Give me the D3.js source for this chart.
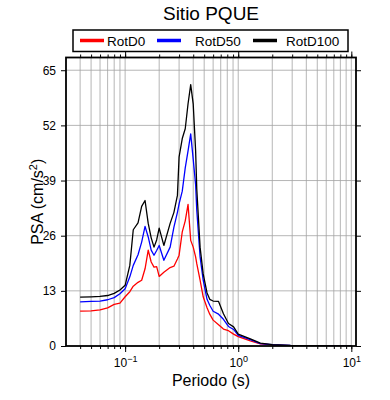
<!DOCTYPE html>
<html lang="en">
<head>
<meta charset="UTF-8">
<style>
    body { margin: 0; background: #fff; }
    text { font-family: "Liberation Sans", Arial, Helvetica, sans-serif; fill: #000; }
    .grid line { stroke: #a3a3a3; stroke-width: 0.8px; }
    .axis text { font-size: 12px; }
</style>
</head>
<body>
<div id="chart"></div>
<script src="https://cdn.jsdelivr.net/npm/d3@7"></script>
<script>

// spectral periods (s) and PSA values (cm/s^2)
var periods = [0.04, 0.05, 0.06, 0.07, 0.08, 0.09, 0.10, 0.11, 0.118, 0.13,
    0.14, 0.15, 0.16, 0.17, 0.18, 0.19, 0.20, 0.22, 0.25, 0.27,
    0.29, 0.30, 0.32, 0.34, 0.36, 0.38, 0.40, 0.42, 0.43, 0.46,
    0.49, 0.53, 0.56, 0.60, 0.67, 0.74, 0.82, 0.91, 1.0, 1.28,
    1.57, 2.0, 2.9, 4.3, 6.5, 10];

var rotD0 = [8.2, 8.3, 8.5, 9.0, 9.8, 10.1, 11.6, 12.8, 14.1, 15.0,
    15.5, 18.2, 22.6, 19.8, 18.6, 18.7, 16.4, 17.4, 18.5, 18.8,
    20.5, 21.4, 26.9, 29.5, 33.4, 24.9, 23.3, 21.0, 19.4, 15.5,
    11.6, 9.0, 7.5, 6.1, 5.0, 4.0, 3.6, 2.8, 2.2, 1.2,
    0.5, 0.25, 0.1, 0.05, 0.03, 0.02];

var rotD50 = [10.4, 10.5, 10.6, 10.9, 11.4, 12.3, 13.5, 16.3, 19.0, 21.5,
    24.5, 28.2, 25.7, 22.6, 21.4, 22.5, 23.7, 20.2, 23.3, 28.0,
    31.5, 33.5, 36.5, 42.0, 46.0, 50.0, 44.0, 38.0, 32.0, 21.0,
    15.5, 11.0, 9.6, 8.2, 7.5, 6.3, 4.6, 3.9, 2.5, 1.5,
    0.55, 0.3, 0.13, 0.07, 0.04, 0.03];

var rotD100 = [11.5, 11.6, 11.7, 11.9, 12.4, 13.2, 14.3, 19.0, 27.4, 29.0,
    32.9, 34.3, 28.9, 25.5, 23.3, 25.0, 27.8, 23.7, 28.9, 31.5,
    35.5, 44.6, 48.9, 51.2, 57.1, 61.6, 57.0, 46.0, 37.0, 23.3,
    17.0, 12.5, 11.0, 10.6, 10.5, 7.6, 5.3, 4.5, 2.8, 1.7,
    0.7, 0.33, 0.15, 0.08, 0.05, 0.03];

var seriesNames = ["RotD0", "RotD50", "RotD100"];
var seriesColors = ["#ff0000", "#0000ff", "#000000"];
var yTicks = [0, 13, 26, 39, 52, 65];
var decades = [0.1, 1, 10];
var decadeExp = ["\u22121", "0", "1"];

var width = 390, height = 400;
var plot = { left: 66, right: 356, top: 57.5, bottom: 346 };

var svg = d3.select("#chart")
    .append("svg")
    .attr("width", width)
    .attr("height", height);

var x = d3.scaleLog().domain([0.03, 11]).range([plot.left, plot.right]);
var y = d3.scaleLinear().domain([0, 68]).range([plot.bottom, plot.top]);

// 1..9 ticks in every decade inside the domain
var minorTicks = [];
[0.01, 0.1, 1, 10].forEach(function (dec) {
    for (var m = 1; m < 10; m++) {
        var v = +(m * dec).toPrecision(3);
        if (v > 0.03 && v <= 11) minorTicks.push(v);
    }
});

// grid
var grid = svg.append("g").attr("class", "grid");
grid.selectAll(".vgrid")
    .data(minorTicks)
    .join("line")
    .attr("x1", function (d) { return x(d); })
    .attr("x2", function (d) { return x(d); })
    .attr("y1", plot.top)
    .attr("y2", plot.bottom);
grid.selectAll(".hgrid")
    .data(yTicks.slice(1))
    .join("line")
    .attr("class", "hgrid")
    .attr("x1", plot.left)
    .attr("x2", plot.right)
    .attr("y1", function (d) { return y(d); })
    .attr("y2", function (d) { return y(d); });

// curves
svg.append("clipPath").attr("id", "clip")
    .append("rect")
    .attr("x", plot.left).attr("y", plot.top)
    .attr("width", plot.right - plot.left)
    .attr("height", plot.bottom - plot.top);

var line = d3.line()
    .x(function (d) { return x(d[0]); })
    .y(function (d) { return y(d[1]); });

[rotD0, rotD50, rotD100].forEach(function (vals, i) {
    svg.append("path")
        .datum(periods.map(function (p, j) { return [p, vals[j]]; }))
        .attr("clip-path", "url(#clip)")
        .attr("fill", "none")
        .attr("stroke", seriesColors[i])
        .attr("stroke-width", 1.3)
        .attr("stroke-linejoin", "round")
        .attr("d", line);
});

// axes
svg.append("g")
    .attr("class", "axis")
    .attr("transform", "translate(" + plot.left + ",0)")
    .call(d3.axisLeft(y).tickValues(yTicks).tickSize(5).tickPadding(5))
    .call(function (g) { g.select(".domain").remove(); });

svg.append("g")
    .attr("transform", "translate(" + plot.right + ",0)")
    .call(d3.axisRight(y).tickValues(yTicks).tickSize(5).tickFormat(""))
    .call(function (g) { g.select(".domain").remove(); });

svg.append("g")
    .attr("transform", "translate(0," + plot.bottom + ")")
    .call(d3.axisBottom(x).tickValues(minorTicks).tickSize(3).tickFormat(""))
    .call(function (g) { g.select(".domain").remove(); });

svg.append("g")
    .attr("transform", "translate(0," + plot.top + ")")
    .call(d3.axisTop(x).tickValues(minorTicks).tickSize(3).tickFormat(""))
    .call(function (g) { g.select(".domain").remove(); });

svg.append("g")
    .attr("transform", "translate(0," + plot.top + ")")
    .call(d3.axisTop(x).tickValues(decades).tickSize(6).tickFormat(""))
    .call(function (g) { g.select(".domain").remove(); });

var xAxis = svg.append("g")
    .attr("class", "axis")
    .attr("transform", "translate(0," + plot.bottom + ")")
    .call(d3.axisBottom(x).tickValues(decades).tickSize(6).tickFormat(""))
    .call(function (g) { g.select(".domain").remove(); });

xAxis.selectAll(".tick text").remove();
xAxis.selectAll(".tick")
    .append("text")
    .attr("y", 21)
    .attr("text-anchor", "middle")
    .each(function (d, i) {
        var t = d3.select(this);
        t.append("tspan").text("10");
        t.append("tspan")
            .attr("dy", -5)
            .style("font-size", "9px")
            .text(decadeExp[i]);
    });

// frame
svg.append("rect")
    .attr("x", plot.left)
    .attr("y", plot.top)
    .attr("width", plot.right - plot.left)
    .attr("height", plot.bottom - plot.top)
    .attr("fill", "none")
    .attr("stroke", "#000")
    .attr("stroke-width", 1.8);

// titles
svg.append("text")
    .attr("x", (plot.left + plot.right) / 2)
    .attr("y", 20)
    .attr("text-anchor", "middle")
    .style("font-size", "19px")
    .text("Sitio PQUE");

svg.append("text")
    .attr("x", (plot.left + plot.right) / 2)
    .attr("y", 386)
    .attr("text-anchor", "middle")
    .style("font-size", "16px")
    .text("Periodo (s)");

var yTitle = svg.append("text")
    .attr("transform", "translate(43," + (plot.top + plot.bottom) / 2 + ") rotate(-90)")
    .attr("text-anchor", "middle")
    .style("font-size", "16px");
yTitle.append("tspan").text("PSA (cm/s");
yTitle.append("tspan").attr("dy", -6).style("font-size", "11px").text("2");
yTitle.append("tspan").attr("dy", 6).text(")");

// legend
var legendBox = { x: 73, y: 30, w: 275, h: 21.5 };
var legendLineX = [80, 157, 253];
var legendTextX = [107, 195, 286];

svg.append("rect")
    .attr("x", legendBox.x)
    .attr("y", legendBox.y)
    .attr("width", legendBox.w)
    .attr("height", legendBox.h)
    .attr("fill", "#fff")
    .attr("stroke", "#000")
    .attr("stroke-width", 1.5);

var legend = svg.selectAll(".legend")
    .data(seriesNames)
    .join("g")
    .attr("class", "legend");

legend.append("line")
    .attr("x1", function (d, i) { return legendLineX[i]; })
    .attr("x2", function (d, i) { return legendLineX[i] + 24; })
    .attr("y1", legendBox.y + 10.5)
    .attr("y2", legendBox.y + 10.5)
    .attr("stroke", function (d, i) { return seriesColors[i]; })
    .attr("stroke-width", 3.5);

legend.append("text")
    .attr("x", function (d, i) { return legendTextX[i]; })
    .attr("y", legendBox.y + 15.5)
    .style("font-size", "13.5px")
    .text(function (d) { return d; });

</script>
</body>
</html>
